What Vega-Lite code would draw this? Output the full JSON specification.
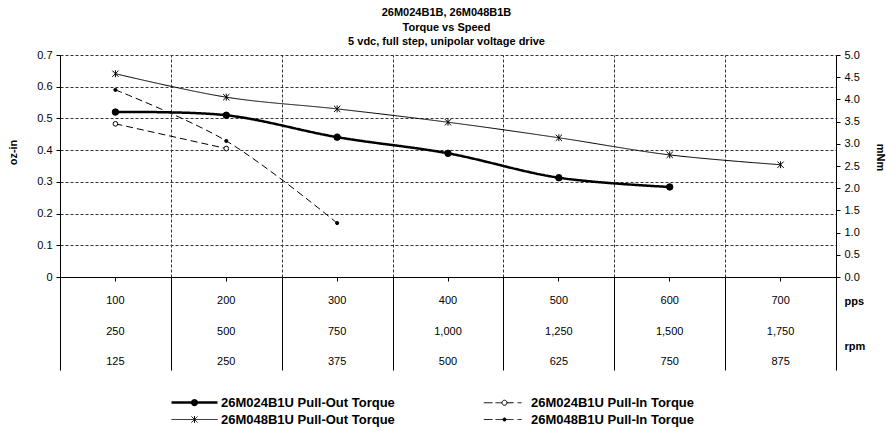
{
  "$schema": "https://vega.github.io/schema/vega-lite/v6.json",
  "padding": {"left": 7, "top": 7, "right": 2, "bottom": 0},
  "title": {
    "text": ["26M024B1B, 26M048B1B", "Torque vs Speed", "5 vdc, full step, unipolar voltage drive"],
    "fontSize": 11, "fontWeight": "bold", "lineHeight": 14.5, "anchor": "middle", "offset": 2, "color": "black", "font": "Liberation Sans"
  },
  "spacing": 0,
  "bounds": "flush",
  "vconcat": [
    {
      "width": 776,
      "height": 222,
      "data": {"values": [
        {"series": "26M024B1U Pull-Out Torque", "pps": 100, "torque": 0.52},
        {"series": "26M024B1U Pull-Out Torque", "pps": 200, "torque": 0.51},
        {"series": "26M024B1U Pull-Out Torque", "pps": 300, "torque": 0.441},
        {"series": "26M024B1U Pull-Out Torque", "pps": 400, "torque": 0.39},
        {"series": "26M024B1U Pull-Out Torque", "pps": 500, "torque": 0.313},
        {"series": "26M024B1U Pull-Out Torque", "pps": 600, "torque": 0.284},
        {"series": "26M048B1U Pull-Out Torque", "pps": 100, "torque": 0.641},
        {"series": "26M048B1U Pull-Out Torque", "pps": 200, "torque": 0.567},
        {"series": "26M048B1U Pull-Out Torque", "pps": 300, "torque": 0.53},
        {"series": "26M048B1U Pull-Out Torque", "pps": 400, "torque": 0.488},
        {"series": "26M048B1U Pull-Out Torque", "pps": 500, "torque": 0.439},
        {"series": "26M048B1U Pull-Out Torque", "pps": 600, "torque": 0.385},
        {"series": "26M048B1U Pull-Out Torque", "pps": 700, "torque": 0.354},
        {"series": "26M024B1U Pull-In Torque", "pps": 100, "torque": 0.483},
        {"series": "26M024B1U Pull-In Torque", "pps": 200, "torque": 0.405},
        {"series": "26M048B1U Pull-In Torque", "pps": 100, "torque": 0.59},
        {"series": "26M048B1U Pull-In Torque", "pps": 200, "torque": 0.429},
        {"series": "26M048B1U Pull-In Torque", "pps": 300, "torque": 0.17}
      ]},
      "layer": [
        {
          "mark": {"type": "line", "interpolate": "catmull-rom"},
          "encoding": {
            "x": {"field": "pps", "type": "ordinal",
              "scale": {"type": "band", "paddingInner": 0, "paddingOuter": 0, "domain": [100, 200, 300, 400, 500, 600, 700]},
              "axis": {"orient": "top", "grid": true, "tickBand": "extent", "domain": false, "ticks": false, "labels": false, "title": null, "gridDash": [3, 2], "gridColor": "#333333", "gridOpacity": 1}},
            "y": {"field": "torque", "type": "quantitative",
              "scale": {"domain": [0, 0.7], "nice": false},
              "axis": {"orient": "left", "values": [0, 0.1, 0.2, 0.3, 0.4, 0.5, 0.6, 0.7], "format": ".1~f", "title": "oz-in",
                "grid": true, "gridDash": [3, 2], "gridColor": "#333333", "gridOpacity": 1,
                "domainColor": "black", "tickColor": "black", "tickSize": 4, "labelPadding": 4, "titlePadding": 18, "titleY": 97}},
            "stroke": {"field": "series", "type": "nominal",
              "scale": {"domain": ["26M024B1U Pull-Out Torque", "26M048B1U Pull-Out Torque", "26M024B1U Pull-In Torque", "26M048B1U Pull-In Torque"],
                "range": ["black", "black", "black", "black"]},
              "legend": {
                "orient": "none", "legendX": 128, "legendY": 341, "columns": 2, "columnPadding": 86, "rowPadding": 3,
                "title": null, "labelFontSize": 13, "labelFontWeight": "bold", "labelColor": "black", "labelFont": "Liberation Sans",
                "labelLimit": 400, "symbolSize": 2116, "labelOffset": 20, "padding": 0,
                "encode": {"symbols": {"update": {
                  "shape": {"signal": "datum.value === '26M024B1U Pull-Out Torque' ? 'M-1,0H1M-0.1,0A0.1,0.1,0,1,1,0.1,0A0.1,0.1,0,1,1,-0.1,0Z' : datum.value === '26M048B1U Pull-Out Torque' ? 'M-1,0H1M-0.13,-0.13L0.13,0.13M-0.13,0.13L0.13,-0.13M0,-0.15V0.15' : datum.value === '26M024B1U Pull-In Torque' ? 'M-0.9,0H-0.52M-0.39,0H-0.11M0.11,0H0.39M0.57,0H0.74M-0.11,0A0.11,0.11,0,1,1,0.11,0A0.11,0.11,0,1,1,-0.11,0Z' : 'M-0.9,0H-0.52M-0.39,0H0.39M0.57,0H0.74M-0.07,0A0.07,0.07,0,1,1,0.07,0A0.07,0.07,0,1,1,-0.07,0Z'"},
                  "fill": {"signal": "datum.value === '26M024B1U Pull-In Torque' ? 'white' : 'black'"},
                  "stroke": {"value": "black"},
                  "strokeWidth": {"signal": "datum.value === '26M024B1U Pull-Out Torque' ? 2.5 : 1"},
                  "strokeDash": {"value": [1, 0]},
                  "opacity": {"value": 1}
                }}}
              }},
            "strokeDash": {"field": "series", "type": "nominal",
              "scale": {"domain": ["26M024B1U Pull-Out Torque", "26M024B1U Pull-In Torque", "26M048B1U Pull-Out Torque", "26M048B1U Pull-In Torque"],
                "range": [[1, 0], [7, 4], [1, 0], [7, 4]]},
              "legend": null},
            "strokeWidth": {"condition": {"test": "datum.series === '26M024B1U Pull-Out Torque'", "value": 2.5}, "value": 1}
          }
        },
        {
          "transform": [{"filter": "datum.series === '26M024B1U Pull-Out Torque'"}],
          "mark": {"type": "point", "shape": "circle", "size": 42, "filled": true, "fill": "black", "stroke": "black", "strokeWidth": 1, "opacity": 1},
          "encoding": {
            "x": {"field": "pps", "type": "ordinal",
              "scale": {"type": "band", "paddingInner": 0, "paddingOuter": 0, "domain": [100, 200, 300, 400, 500, 600, 700]},
              "axis": {"orient": "bottom", "grid": false, "domain": true, "domainColor": "black", "ticks": true, "tickSize": 4, "tickColor": "black", "labels": false, "title": null}},
            "y": {"field": "torque", "type": "quantitative", "scale": {"domain": [0, 0.7], "nice": false}, "axis": null}
          }
        },
        {
          "transform": [{"filter": "datum.series === '26M048B1U Pull-Out Torque'"}],
          "mark": {"type": "point", "shape": "M-1,-1L1,1M-1,1L1,-1M0,-1.1V1.1", "size": 40, "filled": false, "stroke": "black", "strokeWidth": 1, "opacity": 1},
          "encoding": {
            "x": {"field": "pps", "type": "ordinal",
              "scale": {"type": "band", "paddingInner": 0, "paddingOuter": 0, "domain": [100, 200, 300, 400, 500, 600, 700]}, "axis": null},
            "y": {"field": "torque", "type": "quantitative", "scale": {"domain": [0, 0.7], "nice": false}, "axis": null}
          }
        },
        {
          "transform": [{"filter": "datum.series === '26M024B1U Pull-In Torque'"}],
          "mark": {"type": "point", "shape": "circle", "size": 22, "filled": true, "fill": "white", "stroke": "black", "strokeWidth": 1, "opacity": 1},
          "encoding": {
            "x": {"field": "pps", "type": "ordinal",
              "scale": {"type": "band", "paddingInner": 0, "paddingOuter": 0, "domain": [100, 200, 300, 400, 500, 600, 700]}, "axis": null},
            "y": {"field": "torque", "type": "quantitative", "scale": {"domain": [0, 0.7], "nice": false}, "axis": null}
          }
        },
        {
          "transform": [{"filter": "datum.series === '26M048B1U Pull-In Torque'"}],
          "mark": {"type": "point", "shape": "circle", "size": 10, "filled": true, "fill": "black", "stroke": "black", "strokeWidth": 1, "opacity": 1},
          "encoding": {
            "x": {"field": "pps", "type": "ordinal",
              "scale": {"type": "band", "paddingInner": 0, "paddingOuter": 0, "domain": [100, 200, 300, 400, 500, 600, 700]}, "axis": null},
            "y": {"field": "torque", "type": "quantitative", "scale": {"domain": [0, 0.7], "nice": false}, "axis": null}
          }
        },
        {
          "data": {"values": [{}]},
          "mark": {"type": "point", "opacity": 0},
          "encoding": {
            "y": {"datum": 0, "type": "quantitative",
              "scale": {"domain": [0, 5], "nice": false},
              "axis": {"orient": "right", "values": [0, 0.5, 1, 1.5, 2, 2.5, 3, 3.5, 4, 4.5, 5], "format": ".1f", "title": "mNm",
                "grid": false, "domainColor": "black", "tickColor": "black", "tickSize": 4, "labelPadding": 4, "titlePadding": 15, "titleY": 102}}
          }
        }
      ],
      "resolve": {"scale": {"y": "independent"}, "axis": {"x": "independent"}}
    },
    {
      "width": 776,
      "height": 93,
      "data": {"values": [
        {"pps": 100, "row": 1, "val": 100}, {"pps": 200, "row": 1, "val": 200}, {"pps": 300, "row": 1, "val": 300},
        {"pps": 400, "row": 1, "val": 400}, {"pps": 500, "row": 1, "val": 500}, {"pps": 600, "row": 1, "val": 600},
        {"pps": 700, "row": 1, "val": 700},
        {"pps": 100, "row": 2, "val": 250}, {"pps": 200, "row": 2, "val": 500}, {"pps": 300, "row": 2, "val": 750},
        {"pps": 400, "row": 2, "val": 1000}, {"pps": 500, "row": 2, "val": 1250}, {"pps": 600, "row": 2, "val": 1500},
        {"pps": 700, "row": 2, "val": 1750},
        {"pps": 100, "row": 3, "val": 125}, {"pps": 200, "row": 3, "val": 250}, {"pps": 300, "row": 3, "val": 375},
        {"pps": 400, "row": 3, "val": 500}, {"pps": 500, "row": 3, "val": 625}, {"pps": 600, "row": 3, "val": 750},
        {"pps": 700, "row": 3, "val": 875}
      ]},
      "mark": {"type": "text", "fontSize": 11, "color": "black", "font": "Liberation Sans"},
      "encoding": {
        "x": {"field": "pps", "type": "ordinal",
          "scale": {"type": "band", "paddingInner": 0, "paddingOuter": 0, "domain": [100, 200, 300, 400, 500, 600, 700]},
          "axis": {"orient": "bottom", "grid": true, "tickBand": "extent", "gridDash": [], "gridColor": "black", "gridOpacity": 1, "domain": false, "ticks": false, "labels": false, "title": null}},
        "y": {"field": "row", "type": "quantitative",
          "scale": {"domain": [0.2, 3.26], "reverse": true, "nice": false, "zero": false},
          "axis": {"orient": "right", "values": [1, 2.5], "labelExpr": "datum.value == 1 ? 'pps' : 'rpm'", "labelFontWeight": "bold",
            "grid": false, "domain": false, "ticks": false, "title": null, "labelPadding": 8}},
        "text": {"field": "val", "type": "quantitative", "format": ","}
      }
    }
  ],
  "config": {
    "font": "Liberation Sans",
    "view": {"stroke": null},
    "axis": {"labelFont": "Liberation Sans", "labelFontSize": 11, "labelColor": "black", "titleFont": "Liberation Sans", "titleFontSize": 11, "titleFontWeight": "bold", "titleColor": "black"},
    "legend": {"labelFont": "Liberation Sans"}
  }
}
